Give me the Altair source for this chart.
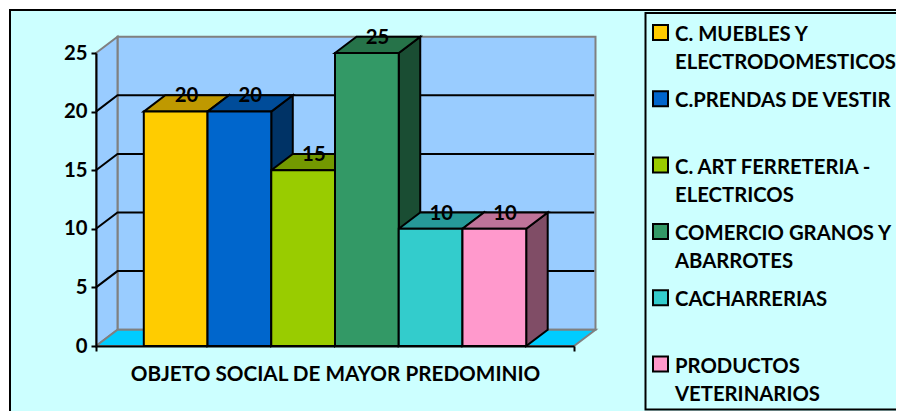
import altair as alt
import pandas as pd

legend_labels = ["C. MUEBLES Y|ELECTRODOMESTICOS", "C.PRENDAS DE VESTIR", "C. ART FERRETERIA -|ELECTRICOS",
                 "COMERCIO GRANOS Y|ABARROTES", "CACHARRERIAS", "PRODUCTOS|VETERINARIOS"]
values = [20, 20, 15, 25, 10, 10]
front_colors = ["#FFCC00", "#0066CC", "#99CC00", "#339966", "#33CCCC", "#FF99CC"]
top_colors = ["#BF9900", "#004C99", "#739900", "#267349", "#269999", "#BF7399"]
side_colors = ["#806600", "#003366", "#4D6600", "#1A4D33", "#1A6666", "#804D66"]
grid_values = [5, 10, 15, 20]
y_ticks = [0, 5, 10, 15, 20, 25]
axis_title = "OBJETO SOCIAL DE MAYOR PREDOMINIO"

FONT = "Lato"
FS = 20.3
PLOT_W, PLOT_H = 478, 293
X_MAX, Y_MAX = 7.5, 25
GAP = 0.75
DX = 21.5 * X_MAX / PLOT_W      # depth of the 3D box, data units
DY = 16.3 * Y_MAX / PLOT_H

x_scale = alt.Scale(domain=[0, X_MAX], nice=False, zero=False)
y_scale = alt.Scale(domain=[0, Y_MAX], nice=False, zero=False)

x_axis = alt.Axis(values=[0, X_MAX], labels=False, grid=False, title=axis_title, domainColor="black",
                  domainWidth=2, tickColor="black", tickWidth=2, tickSize=5, titleFont=FONT,
                  titleFontSize=20.7, titleFontWeight="bold", titleColor="black", titlePadding=12, zindex=1)
y_axis = alt.Axis(values=y_ticks, grid=False, title=None, domainColor="black", domainWidth=2,
                  tickColor="black", tickWidth=2, tickSize=5, labelFont=FONT, labelFontSize=FS,
                  labelFontWeight="bold", labelColor="black", labelPadding=4, zindex=1)
X = alt.X("x:Q", scale=x_scale, axis=x_axis, title=axis_title)
Y = alt.Y("y:Q", scale=y_scale, axis=y_axis, title=None)


def flat(x0, x1, v, key, color):
    """horizontal parallelogram (bar top, floor)"""
    return [dict(x=x0, y=v, y2=v, key=key, c=color),
            dict(x=x0 + DX, y=v + DY, y2=v, key=key, c=color),
            dict(x=x1, y=v + DY, y2=v, key=key, c=color),
            dict(x=x1 + DX, y=v + DY, y2=v + DY, key=key, c=color)]


def side(x, v0, v1, key, color):
    """vertical parallelogram receding in depth"""
    return [dict(x=x, y=v1, y2=v0, key=key, c=color),
            dict(x=x + DX, y=v1 + DY, y2=v0 + DY, key=key, c=color)]


def area_layer(rows, stroke, width=2):
    return alt.Chart(pd.DataFrame(rows)).mark_area(
        stroke=stroke, strokeWidth=width, opacity=1, interpolate="linear", orient="vertical",
        strokeJoin="miter"
    ).encode(
        x=X,
        y=alt.Y("y:Q", scale=y_scale, axis=y_axis, title=None, stack=None),
        y2="y2:Q",
        detail="key:N",
        fill=alt.Fill("c:N", scale=None, legend=None),
    )


one = pd.DataFrame({"a": [0]})
frame = alt.Chart(one).mark_rect(fill="#CCFFFF", stroke="black", strokeWidth=2).encode(
    x=alt.value(-86), x2=alt.value(1000), y=alt.value(-43), y2=alt.value(600))
legend_frame = alt.Chart(one).mark_rect(fill="#CCFFFF", stroke="black", strokeWidth=2).encode(
    x=alt.value(549.5), x2=alt.value(1000), y=alt.value(-40), y2=alt.value(356.5))

# walls and floor
floor = area_layer(flat(0, X_MAX, 0, "floor", "#00CCFF"), "#808080")
left_wall = area_layer(side(0, 0, Y_MAX, "wall", "#99CCFF"), "#808080")
back_wall = alt.Chart(pd.DataFrame([dict(x=DX, x2=X_MAX + DX, y=DY, y2=Y_MAX + DY)])).mark_rect(
    fill="#99CCFF", stroke="#808080", strokeWidth=2).encode(x=X, x2="x2:Q", y=Y, y2="y2:Q")

grid_rows = []
for v in grid_values:
    grid_rows += [dict(x=0, y=v, k=v), dict(x=DX, y=v + DY, k=v), dict(x=X_MAX + DX - 0.02, y=v + DY, k=v)]
grid = alt.Chart(pd.DataFrame(grid_rows)).mark_line(color="black", strokeWidth=2).encode(
    x=X, y=Y, detail="k:N", order="x:Q")

# 3D bars: sides under tops under fronts
side_rows, top_rows, front_rows, label_rows = [], [], [], []
for i, v in enumerate(values):
    x0, x1 = GAP + i, GAP + i + 1
    side_rows += side(x1, 0, v, i, side_colors[i])
    top_rows += flat(x0, x1, v, i, top_colors[i])
    front_rows.append(dict(x=x0, x2=x1, y=v, y2=0, c=front_colors[i]))
    label_rows.append(dict(x=(x0 + x1 + DX) / 2, y=v + DY, v=v))

sides = area_layer(side_rows, "black")
tops = area_layer(top_rows, "black")
fronts = alt.Chart(pd.DataFrame(front_rows)).mark_rect(stroke="black", strokeWidth=2).encode(
    x=X, x2="x2:Q", y=Y, y2="y2:Q", fill=alt.Fill("c:N", scale=None, legend=None))

labels = alt.Chart(pd.DataFrame(label_rows)).mark_text(
    font=FONT, fontSize=FS, fontWeight="bold", color="black", baseline="middle", align="center", dy=1).encode(
    x=X, y=Y, text="v:Q")

# legend entries
LEG_Y0, LEG_STEP = -20.5, 66.3
legend_layers = []
for i, lab in enumerate(legend_labels):
    d = pd.DataFrame({"t": [lab]})
    yc = LEG_Y0 + i * LEG_STEP
    legend_layers.append(alt.Chart(d).mark_rect(
        fill=front_colors[i], stroke="black", strokeWidth=2).encode(
        x=alt.value(557), x2=alt.value(572), y=alt.value(yc - 7.5), y2=alt.value(yc + 7.5)))
    legend_layers.append(alt.Chart(d).mark_text(
        font=FONT, fontSize=FS, fontWeight="bold", color="black", align="left", baseline="top",
        lineBreak="|", lineHeight=28.4).encode(
        x=alt.value(579), y=alt.value(yc - 7.5), text="t:N"))

chart = alt.layer(
    frame, legend_frame, back_wall, left_wall, floor, grid, sides, tops, fronts, labels, *legend_layers
).properties(
    width=PLOT_W, height=PLOT_H,
    padding={"left": 88, "top": 45, "right": 322, "bottom": 65},
    autosize=alt.AutoSizeParams(type="none"),
    background="transparent",
).configure_view(stroke=None)

chart.save("out.html", embed_options={"renderer": "svg", "actions": False})
